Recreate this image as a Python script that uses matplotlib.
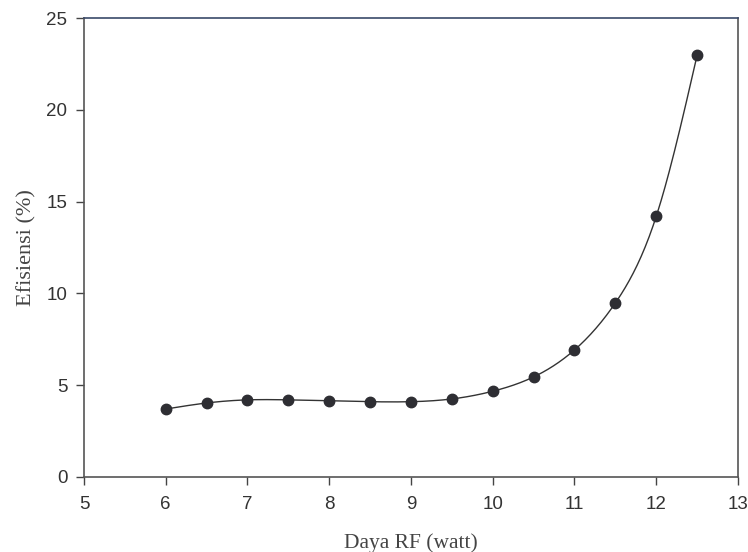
import numpy as np
import matplotlib
matplotlib.use("Agg")
import matplotlib.pyplot as plt

# data
daya_rf = [6.0, 6.5, 7.0, 7.5, 8.0, 8.5, 9.0, 9.5, 10.0, 10.5, 11.0, 11.5, 12.0, 12.5]
efisiensi = [3.7, 4.03, 4.2, 4.2, 4.15, 4.1, 4.1, 4.25, 4.67, 5.45, 6.92, 9.48, 14.2, 22.98]

x_ticks = [5, 6, 7, 8, 9, 10, 11, 12, 13]
y_ticks = [0, 5, 10, 15, 20, 25]


def natural_spline(x, y, n=400):
    """Smooth line through the measured points (natural cubic spline)."""
    x = np.asarray(x, float)
    y = np.asarray(y, float)
    h = np.diff(x)
    m = len(x)
    A = np.zeros((m, m))
    b = np.zeros(m)
    A[0, 0] = A[-1, -1] = 1.0
    for i in range(1, m - 1):
        A[i, i - 1] = h[i - 1]
        A[i, i] = 2 * (h[i - 1] + h[i])
        A[i, i + 1] = h[i]
        b[i] = 3 * ((y[i + 1] - y[i]) / h[i] - (y[i] - y[i - 1]) / h[i - 1])
    c = np.linalg.solve(A, b)
    xs = np.linspace(x[0], x[-1], n)
    idx = np.clip(np.searchsorted(x, xs) - 1, 0, m - 2)
    dx = xs - x[idx]
    hi = h[idx]
    bb = (y[idx + 1] - y[idx]) / hi - hi * (2 * c[idx] + c[idx + 1]) / 3
    dd = (c[idx + 1] - c[idx]) / (3 * hi)
    ys = y[idx] + bb * dx + c[idx] * dx ** 2 + dd * dx ** 3
    return xs, ys


fig = plt.figure(figsize=(7.48, 5.52), dpi=100)
ax = fig.add_axes([0.1123, 0.136, 0.8743, 0.831])

xs, ys = natural_spline(daya_rf, efisiensi)
ax.plot(xs, ys, color="#333333", linewidth=1.0)
ax.plot(daya_rf, efisiensi, linestyle="none", marker="o", markersize=7.5,
        color="#2e2e33")

ax.set_xlim(5, 13)
ax.set_ylim(0, 25)
ax.set_xticks(x_ticks)
ax.set_yticks(y_ticks)
ax.tick_params(direction="out", length=6, width=1, colors="#444444",
               labelsize=13.5, labelcolor="#333333")
ax.tick_params(axis="x", pad=8)
ax.tick_params(axis="y", pad=6)
for lab in ax.get_xticklabels() + ax.get_yticklabels():
    lab.set_fontfamily("Liberation Sans")

for s in ax.spines.values():
    s.set_color("#555555")
    s.set_linewidth(1.2)
ax.spines["top"].set_color("#3a4a6a")

ax.set_xlabel("Daya RF (watt)", fontfamily="Liberation Serif", fontsize=15.5,
              color="#444444", labelpad=14)
ax.set_ylabel("Efisiensi (%)", fontfamily="Liberation Serif", fontsize=16,
              color="#444444", labelpad=7)

fig.savefig("out.png", dpi=100)
